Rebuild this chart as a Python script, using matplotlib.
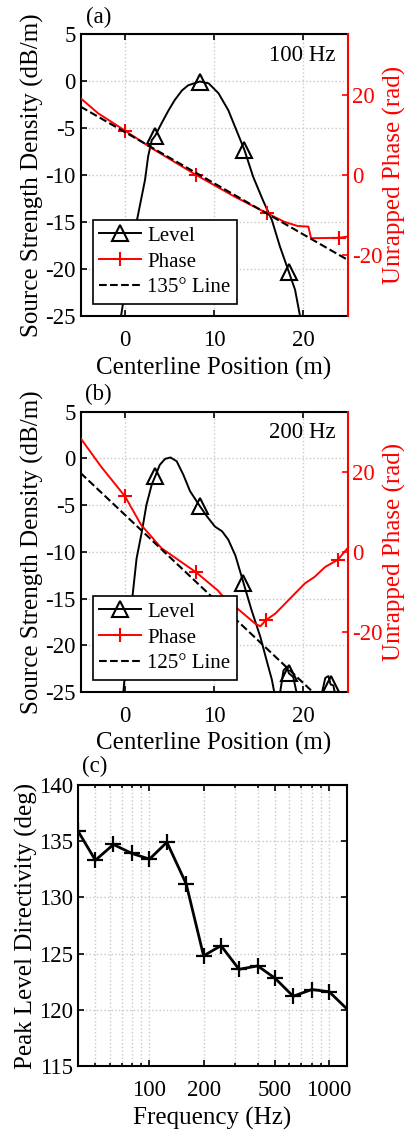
import matplotlib
matplotlib.use("Agg")
import matplotlib.pyplot as plt
import numpy as np
from matplotlib.ticker import NullFormatter, FixedLocator, FixedFormatter, LogLocator

plt.rcParams["font.family"] = ["Liberation Serif", "DejaVu Serif"]
plt.rcParams["axes.unicode_minus"] = False
plt.rcParams["font.size"] = 16.5

# ---- panel (a): 100 Hz ----
level_pos_a = [-0.5, 0.4, 1.3, 2.25, 2.6, 3.0, 3.4, 4.1, 4.9, 5.6, 6.4, 7.1, 8.4, 9.4,
               10.5, 11.6, 12.5, 13.4, 14.4, 15.5, 16.5, 17.4, 18.4, 19.1, 19.7]
level_a = [-25.3, -20.0, -15.0, -10.5, -8.0, -6.3, -5.8, -4.5, -3.1, -2.0, -1.0, -0.45,
           -0.05, -0.25, -1.3, -3.1, -5.2, -7.3, -10.2, -12.7, -14.8, -17.6, -20.3, -22.2,
           -25.2]
level_marks_a = [3.4, 8.4, 13.4, 18.4]

phase_pos_a = [-5.0, -3.0, 0.0, 3.0, 8.0, 12.3, 16.0, 17.9, 19.4, 20.6, 20.9, 24.0, 25.0]
phase_a = [19.2, 15.4, 11.1, 6.7, 0.0, -5.4, -9.6, -11.7, -12.75, -12.9, -15.8, -15.7, -15.4]
phase_marks_a = [0.0, 8.0, 16.0, 24.0]

line_pos_a = [-5.0, 25.0]
line_a = [17.1, -21.2]

# ---- panel (b): 200 Hz ----
level_pos_b = [-0.2, 0.3, 0.8, 1.3, 1.9, 2.4, 3.0, 3.4, 3.9, 4.5, 5.1, 5.8, 6.55, 7.3,
               8.4, 9.2, 10.1, 10.9, 11.6, 12.4, 13.3, 14.2, 15.2, 15.9, 16.5, 16.8, 17.0,
               17.4, 17.8, 18.2, 18.4, 18.9, 19.3, 19.6, 22.1, 22.5, 22.85, 23.1, 23.4, 23.6]
level_b = [-25.2, -19.6, -15.1, -10.7, -7.8, -5.0, -2.8, -1.9, -0.7, -0.05, 0.1, -0.3,
           -1.75, -3.5, -5.1, -6.2, -7.3, -7.8, -8.7, -10.4, -13.3, -16.2, -19.1, -21.6,
           -23.7, -25.2, np.nan, -25.2, -22.7, -22.3, -23.0, -23.4, -25.2, np.nan, -25.2,
           -23.5, -23.3, -24.2, -24.3, -25.2]
level_marks_b = [3.4, 8.4, 13.3, 18.4, 23.1]

phase_pos_b = [-5.0, -2.7, 0.0, 1.8, 4.1, 8.0, 10.4, 11.2, 12.4, 13.5, 14.6, 15.2, 15.8,
               16.9, 18.0, 19.1, 20.2, 21.3, 22.5, 23.9, 25.0]
phase_b = [28.4, 21.3, 13.85, 6.75, 0.9, -5.15, -9.6, -11.65, -13.75, -15.8, -17.9, -18.6,
           -17.1, -15.4, -12.9, -10.4, -7.9, -6.25, -3.75, -2.0, 0.9]
phase_marks_b = [0.0, 8.0, 15.8, 23.9]

line_pos_b = [-5.0, 25.0]
line_b = [19.7, -43.2]

# ---- panel (c) ----
freqs = [40, 50, 63, 80, 100, 125, 160, 200, 250, 315, 400, 500, 630, 800, 1000, 1250]
directivity = [135.9, 133.3, 134.7, 133.9, 133.4, 134.9, 131.2, 124.8, 125.7, 123.6,
               123.9, 122.8, 121.2, 121.8, 121.6, 120.1]

GRID = dict(color="#c8c8c8", linestyle=":", linewidth=1.0)
TICK_FS = 16.5
LABEL_FS = 18
LEG_FS = 15


def idx(pos, marks):
    return [pos.index(m) for m in marks]


def source_panel(fig, rect, lpos, lev, lmarks, ppos, ph, pmarks, dpos, dl, freq_txt, deg, plim):
    ax = fig.add_axes(rect)
    ax.set_xlim(-5, 25)
    ax.set_ylim(-25, 5)
    ax.set_xticks([0, 10, 20])
    ax.set_yticks([-25, -20, -15, -10, -5, 0, 5])
    ax.grid(True, **GRID)
    ax.set_axisbelow(True)
    ax.tick_params(direction="in", length=4, width=1.2, top=True, right=False, pad=3.5,
                   labelsize=TICK_FS)
    ax.tick_params(axis="x", pad=10)
    for s in ["left", "top", "bottom"]:
        ax.spines[s].set_linewidth(1.5)
    ax.spines["right"].set_visible(False)
    h1, = ax.plot(lpos, lev, color="black", lw=1.4, marker="^", ms=12, mfc="none",
                  mec="black", mew=1.5, markevery=idx(lpos, lmarks), label="Level")
    ax.set_xlabel("Centerline Position (m)", fontsize=LABEL_FS, labelpad=4)
    ax.set_ylabel("Source Strength Density (dB/m)", fontsize=LABEL_FS, labelpad=1)
    ax.text(0.955, 0.925, freq_txt, transform=ax.transAxes, ha="right", va="center",
            fontsize=TICK_FS)

    ax2 = ax.twinx()
    ax2.set_ylim(-plim, plim)
    ax2.set_yticks([-20, 0, 20])
    for s in ["left", "top", "bottom"]:
        ax2.spines[s].set_visible(False)
    ax2.spines["right"].set_color("red")
    ax2.spines["right"].set_linewidth(1.5)
    ax2.tick_params(direction="in", length=4, width=1.2, colors="red", pad=3.5,
                    labelsize=TICK_FS)
    h2, = ax2.plot(ppos, ph, color="red", lw=1.4, marker="+", ms=10, mew=1.5,
                   markevery=idx(ppos, pmarks), label="Phase")
    h3, = ax2.plot(dpos, dl, color="black", lw=1.5, linestyle="--",
                   label=f"{deg}° Line")
    ax2.set_ylabel("Unrapped Phase (rad)", color="red", fontsize=LABEL_FS)
    ax2.yaxis.set_label_coords(1.133, 0.5)
    leg = ax2.legend(handles=[h1, h2, h3], loc="lower left", bbox_to_anchor=(0.047, 0.044),
                     fancybox=False, edgecolor="black", framealpha=1, borderpad=0.3,
                     handlelength=2.0, handletextpad=0.3, labelspacing=0.3, borderaxespad=0,
                     fontsize=LEG_FS)
    leg.get_frame().set_linewidth(1.2)
    return ax


fig = plt.figure(figsize=(4.04, 11.31), dpi=100)

source_panel(fig, [0.1993, 0.7206, 0.661, 0.2493], level_pos_a, level_a, level_marks_a,
             phase_pos_a, phase_a, phase_marks_a, line_pos_a, line_a, "100 Hz", 135, 35.25)
source_panel(fig, [0.1993, 0.3882, 0.661, 0.2478], level_pos_b, level_b, level_marks_b,
             phase_pos_b, phase_b, phase_marks_b, line_pos_b, line_b, "200 Hz", 125, 35.0)

axc = fig.add_axes([0.193, 0.0575, 0.665, 0.2485])
axc.set_xscale("log")
axc.set_xlim(40, 1250)
axc.set_ylim(115, 140)
axc.xaxis.set_major_locator(FixedLocator([100, 200, 500, 1000]))
axc.xaxis.set_major_formatter(FixedFormatter(["100", "200", "500", "1000"]))
axc.xaxis.set_minor_locator(LogLocator(base=10, subs=np.arange(2, 10)))
axc.xaxis.set_minor_formatter(NullFormatter())
axc.set_yticks([115, 120, 125, 130, 135, 140])
axc.grid(True, which="both", **GRID)
axc.set_axisbelow(True)
axc.tick_params(which="both", direction="in", top=True, right=True, width=1.2, pad=3.5,
                labelsize=TICK_FS)
axc.tick_params(axis="x", which="both", pad=10)
axc.tick_params(which="major", length=4)
axc.tick_params(which="minor", length=2.5)
for s in axc.spines.values():
    s.set_linewidth(1.5)
axc.plot(freqs, directivity, color="black", lw=2, marker="+", ms=12, mew=1.6,
         markevery=list(range(len(freqs) - 1)))
axc.set_xlabel("Frequency (Hz)", fontsize=LABEL_FS, labelpad=4)
axc.set_ylabel("Peak Level Directivity (deg)", fontsize=LABEL_FS, labelpad=1)

fig.text(0.213, 0.985, "(a)", ha="left", va="center", fontsize=TICK_FS)
fig.text(0.211, 0.651, "(b)", ha="left", va="center", fontsize=TICK_FS)
fig.text(0.204, 0.322, "(c)", ha="left", va="center", fontsize=TICK_FS)

fig.savefig("out.png", dpi=100)
